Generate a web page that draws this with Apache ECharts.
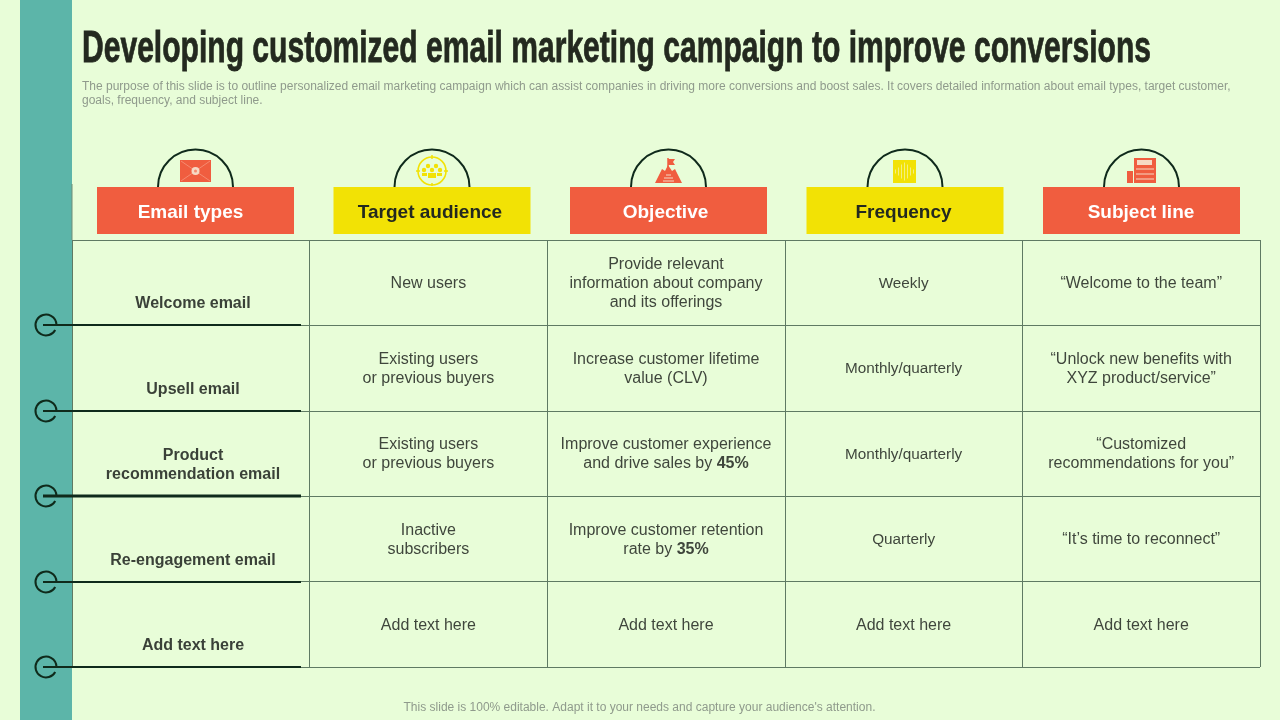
<!DOCTYPE html>
<html>
<head>
<meta charset="utf-8">
<style>
html, body { margin: 0; padding: 0; background: #e8fdd8; }
#chart { width: 1280px; height: 720px; }
</style>
<script src="https://cdn.jsdelivr.net/npm/echarts@6/dist/echarts.min.js"></script>
</head>
<body>
<div id="chart"></div>
<script>
const titleText = 'Developing customized email marketing campaign to improve conversions';
const introLines = [
	'The purpose of this slide is to outline personalized email marketing campaign which can assist companies in driving more conversions and boost sales. It covers detailed information about email types, target customer,',
	'goals, frequency, and subject line.'
];
const footerText = "This slide is 100% editable. Adapt it to your needs and capture your audience's attention.";

const headers = ['Email types', 'Target audience', 'Objective', 'Frequency', 'Subject line'];
const emailTypes = ['Welcome email', 'Upsell email', 'Product\nrecommendation email', 'Re-engagement email', 'Add text here'];
const audience = ['New users', 'Existing users\nor previous buyers', 'Existing users\nor previous buyers', 'Inactive\nsubscribers', 'Add text here'];
const objective = [
	'Provide relevant\ninformation about company\nand its offerings',
	'Increase customer lifetime\nvalue (CLV)',
	'Improve customer experience\nand drive sales by {b|45%}',
	'Improve customer retention\nrate by {b|35%}',
	'Add text here'
];
const frequency = ['Weekly', 'Monthly/quarterly', 'Monthly/quarterly', 'Quarterly', 'Add text here'];
const subjectLine = [
	'\u201cWelcome to the team\u201d',
	'\u201cUnlock new benefits with\nXYZ product/service\u201d',
	'\u201cCustomized\nrecommendations for you\u201d',
	'\u201cIt\u2019s time to reconnect\u201d',
	'Add text here'
];

const RED = '#f05d3f';
const YELLOW = '#f2e205';
const TEAL = '#5cb5a9';
const DARK = '#0f2a1b';
const PALE = '#f6d9c4';
const TITLE_FONT = 'bold 45px "Liberation Sans", sans-serif';
const TITLE_WIDTH = 1069;

// header tiles are not lined up with the table columns, so they get their own centres
const headerCentres = [195.5, 432, 668.5, 905, 1141.5];
const headerTextCentres = [190.5, 430, 665.5, 903.5, 1141];

let tableCells = [];
[audience, objective, frequency, subjectLine].forEach(function (column, c) {
	column.forEach(function (text, r) {
		tableCells.push([c + 1, r, text]);
	});
});
let typeCells = emailTypes.map(function (text, r) {
	return [0, r, text];
});

function line(x1, y1, x2, y2, color, width) {
	return {
		type: 'line',
		shape: { x1: x1, y1: y1, x2: x2, y2: y2 },
		style: { stroke: color, lineWidth: width }
	};
}

function dot(x, y, r, color) {
	return { type: 'circle', shape: { cx: x, cy: y, r: r }, style: { fill: color } };
}

function box(x, y, w, h, color) {
	return { type: 'rect', shape: { x: x, y: y, width: w, height: h }, style: { fill: color } };
}

function envelopeIcon() {
	return [
		box(180, 160, 31, 22, RED),
		line(181, 161, 210, 181, '#f58a70', 1),
		line(210, 161, 181, 181, '#f58a70', 1),
		dot(195.5, 171, 4, PALE),
		dot(195.5, 171, 1.5, '#f58a70')
	];
}

function targetIcon() {
	let parts = [
		{
			type: 'circle',
			shape: { cx: 432, cy: 171, r: 14 },
			style: { fill: 'none', stroke: YELLOW, lineWidth: 1.6 }
		},
		line(432, 155, 432, 159, YELLOW, 1.5),
		line(432, 183, 432, 186, YELLOW, 1.5),
		line(416, 171, 420, 171, YELLOW, 1.5),
		line(444, 171, 448, 171, YELLOW, 1.5)
	];
	[[428, 166], [436, 166], [424, 170], [440, 170], [432, 170]].forEach(function (p) {
		parts.push(dot(p[0], p[1], 2.2, YELLOW));
	});
	parts.push(box(428, 173, 8, 5, YELLOW));
	parts.push(box(422, 173, 5, 3, YELLOW));
	parts.push(box(437, 173, 5, 3, YELLOW));
	return parts;
}

function summitIcon() {
	return [
		{
			type: 'polygon',
			shape: { points: [[655, 183], [662, 169], [665, 171], [668, 165], [672, 171], [675, 169], [682, 183]] },
			style: { fill: RED }
		},
		line(668, 158, 668, 168, RED, 1.5),
		{
			type: 'polygon',
			shape: { points: [[668, 159], [675, 159], [673, 162], [675, 165], [668, 165]] },
			style: { fill: RED }
		},
		line(666, 175, 671, 175, PALE, 1),
		line(664, 178, 673, 178, PALE, 1),
		line(663, 181, 674, 181, PALE, 1)
	];
}

function waveIcon() {
	let parts = [box(893, 160, 23, 23, YELLOW)];
	[2, 4, 7, 9, 7, 4, 2].forEach(function (h, i) {
		parts.push(line(895.5 + i * 3, 171.5 - h, 895.5 + i * 3, 171.5 + h, '#f4ee80', 1));
	});
	return parts;
}

function documentIcon() {
	return [
		box(1134, 158, 22, 25, RED),
		box(1127, 171, 6, 12, RED),
		box(1137, 160, 15, 5, PALE),
		line(1136, 169, 1154, 169, PALE, 1),
		line(1136, 174, 1154, 174, PALE, 1),
		line(1136, 179, 1154, 179, PALE, 1)
	];
}

// no condensed display face is installed, so squeeze the bold one to the title's width
function titleScale() {
	let ctx = document.createElement('canvas').getContext('2d');
	ctx.font = TITLE_FONT;
	return TITLE_WIDTH / ctx.measureText(titleText).width;
}

function buildGraphic() {
	let els = [
		// teal band down the left side
		Object.assign(box(20, 0, 52, 720, TEAL), { silent: true }),
		line(72, 184, 72, 240, '#6f8c74', 1),
		{
			type: 'text',
			x: 82,
			y: 50,
			scaleX: titleScale(),
			style: {
				text: titleText,
				fill: '#23291f',
				stroke: '#23291f',
				lineWidth: 0.8,
				verticalAlign: 'middle',
				font: TITLE_FONT
			}
		},
		{
			type: 'text',
			x: 639.5,
			y: 702,
			style: {
				text: footerText,
				fill: '#8f9a8c',
				align: 'center',
				font: '12px "Liberation Sans", sans-serif'
			}
		}
	];
	introLines.forEach(function (text, i) {
		els.push({
			type: 'text',
			x: 82,
			y: 81 + i * 14,
			style: {
				text: text,
				fill: '#8f9a8c',
				font: '12px "Liberation Sans", sans-serif'
			}
		});
	});
	headers.forEach(function (text, i) {
		let cx = headerCentres[i];
		let isRed = i % 2 === 0;
		els.push({
			type: 'arc',
			shape: { cx: cx, cy: 187, r: 37.5, startAngle: Math.PI, endAngle: 2 * Math.PI },
			style: { fill: 'none', stroke: DARK, lineWidth: 2 }
		});
		els.push(box(cx - 98.5, 187, 197, 47, isRed ? RED : YELLOW));
		els.push({
			type: 'text',
			x: headerTextCentres[i],
			y: 213,
			style: {
				text: text,
				fill: isRed ? '#ffffff' : '#23291f',
				align: 'center',
				verticalAlign: 'middle',
				font: 'bold 19px "Liberation Sans", sans-serif'
			}
		});
	});
	return els.concat(envelopeIcon(), targetIcon(), summitIcon(), waveIcon(), documentIcon());
}

function renderCell(params, api) {
	let col = api.value(0);
	let row = api.value(1);
	let p = api.coord([col + 0.5, row + 0.5]);
	// the monthly/quarterly wording sits tighter than the rest of the table
	let size = col === 3 && row < 4 ? 15.3 : 16;
	return {
		type: 'text',
		x: p[0],
		y: p[1] + 1,
		style: {
			text: tableCells[params.dataIndex][2],
			fill: '#3f463c',
			align: 'center',
			verticalAlign: 'middle',
			font: size + 'px "Liberation Sans", sans-serif',
			lineHeight: 19,
			rich: {
				b: { fontWeight: 'bold', fontSize: 16, fontFamily: 'Liberation Sans', fill: '#3f463c', lineHeight: 19 }
			}
		}
	};
}

function renderType(params, api) {
	let p = api.coord([0, api.value(1) + 1]);
	let y = Math.round(p[1]);
	return {
		type: 'group',
		children: [
			line(p[0] - 29, y, p[0] + 229, y, DARK, api.value(1) === 2 ? 3 : 2),
			{
				type: 'arc',
				shape: { cx: p[0] - 26, cy: y, r: 10.5, startAngle: 0.5, endAngle: 2 * Math.PI },
				style: { fill: 'none', stroke: DARK, lineWidth: 2 }
			},
			{
				type: 'text',
				x: p[0] + 121,
				y: y - 12,
				style: {
					text: typeCells[params.dataIndex][2],
					fill: '#3a4138',
					align: 'center',
					verticalAlign: 'bottom',
					font: 'bold 16px "Liberation Sans", sans-serif',
					lineHeight: 19
				}
			}
		]
	};
}

let dom = document.getElementById('chart');
let myChart = echarts.init(dom);

let tableLine = { show: true, lineStyle: { color: '#5f7a63', width: 1 } };
let option = {
	backgroundColor: '#e8fdd8',
	animation: false,
	grid: { left: 72, right: 20, top: 240, height: 427 },
	xAxis: {
		type: 'value',
		min: 0,
		max: 5,
		interval: 1,
		axisLine: { show: false },
		axisTick: { show: false },
		axisLabel: { show: false },
		splitLine: tableLine
	},
	yAxis: {
		type: 'value',
		min: 0,
		max: 5,
		interval: 1,
		inverse: true,
		axisLine: { show: false },
		axisTick: { show: false },
		axisLabel: { show: false },
		splitLine: tableLine
	},
	graphic: buildGraphic(),
	series: [
		{
			type: 'custom',
			coordinateSystem: 'cartesian2d',
			clip: false,
			silent: true,
			data: tableCells.map(function (c) { return [c[0], c[1]]; }),
			renderItem: renderCell
		},
		{
			type: 'custom',
			coordinateSystem: 'cartesian2d',
			clip: false,
			silent: true,
			data: typeCells.map(function (c) { return [c[0], c[1]]; }),
			renderItem: renderType
		}
	]
};

myChart.setOption(option);
</script>
</body>
</html>
